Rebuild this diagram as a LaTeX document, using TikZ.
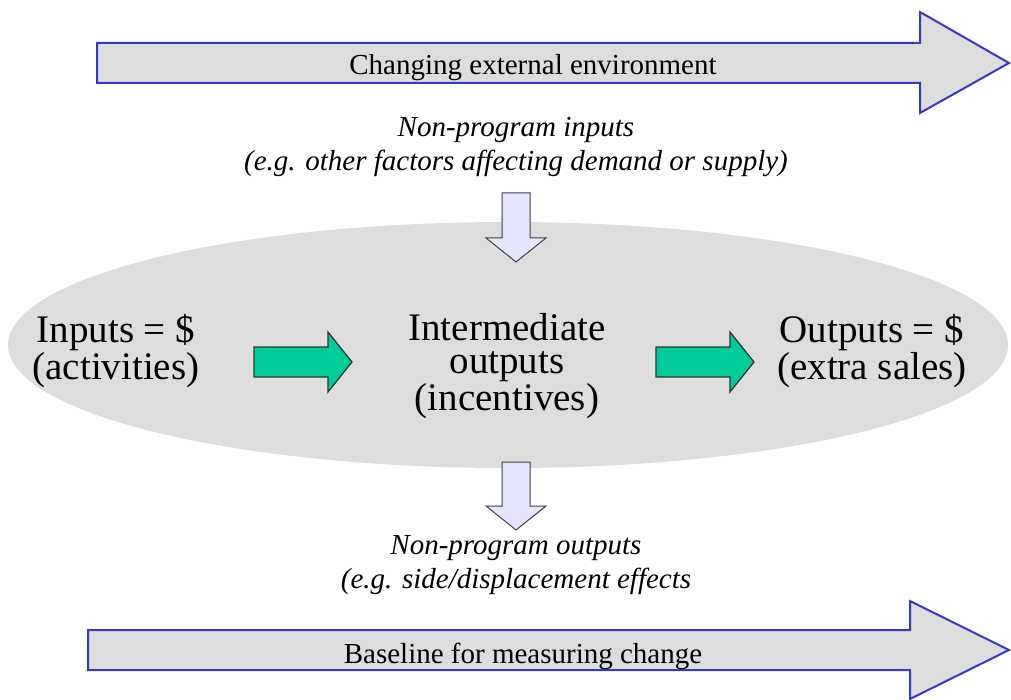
\documentclass[tikz,border=0pt]{standalone}
\usepackage{fontspec}
\setmainfont{Liberation Serif}
\definecolor{bggray}{HTML}{DDDDDD}
\definecolor{bigblue}{HTML}{3838C8}
\definecolor{tealgreen}{HTML}{00CC99}
\definecolor{lavender}{HTML}{E4E4FC}
\begin{document}
\begin{tikzpicture}[x=1pt,y=-1pt,
  bigarrow/.style={fill=bggray,draw=bigblue,line width=2pt,line join=miter},
  greenarrow/.style={fill=tealgreen,draw=black!80,line width=1.2pt},
  downarrow/.style={fill=lavender,draw=black!75,line width=1pt},
  bigtext/.style={font=\fontsize{39}{33.5}\selectfont,align=center,inner sep=0pt},
  arrowtext/.style={font=\fontsize{29}{30}\selectfont,inner sep=0pt},
  noteital/.style={font=\fontsize{29}{34.5}\selectfont\itshape,align=center,inner sep=0pt}]
\useasboundingbox (0,0) rectangle (1011,700);
% ellipse
\fill[bggray] (508,345) ellipse [x radius=500, y radius=123];
% top big arrow
\draw[bigarrow] (97,43) -- (920,43) -- (920,12) -- (1009,63) -- (920,113) -- (920,83) -- (97,83) -- cycle;
\node[arrowtext] (env) at (533,68) {Changing external environment};
% bottom big arrow
\draw[bigarrow] (88,630) -- (910,630) -- (910,601) -- (1009,650) -- (910,699) -- (910,670) -- (88,670) -- cycle;
\node[arrowtext] (base) at (523,656) {Baseline for measuring change};
% notes
\node[noteital] (npin) at (516,147) {Non-program inputs\\(e.g. other factors affecting demand or supply)};
\node[noteital] (npout) at (516,565) {Non-program outputs\\(e.g. side/displacement effects};
% down arrows
\draw[downarrow] (502,193) -- (530,193) -- (530,238) -- (546,238) -- (516,262) -- (486,238) -- (502,238) -- cycle;
\draw[downarrow] (502,462) -- (530,462) -- (530,506) -- (546,506) -- (516,530) -- (486,506) -- (502,506) -- cycle;
% green arrows
\draw[greenarrow] (254,347) -- (328,347) -- (328,332) -- (352,362) -- (328,392) -- (328,377) -- (254,377) -- cycle;
\draw[greenarrow] (656,347) -- (730,347) -- (730,332) -- (754,362) -- (730,392) -- (730,377) -- (656,377) -- cycle;
% main texts
\node[bigtext] (inputs) at (116,351) {Inputs = \$\\(activities)};
\node[bigtext] (inter) at (507,366) {Intermediate\\outputs\\(incentives)};
\node[bigtext] (outputs) at (872,351) {Outputs = \$\\(extra sales)};
\end{tikzpicture}
\end{document}
